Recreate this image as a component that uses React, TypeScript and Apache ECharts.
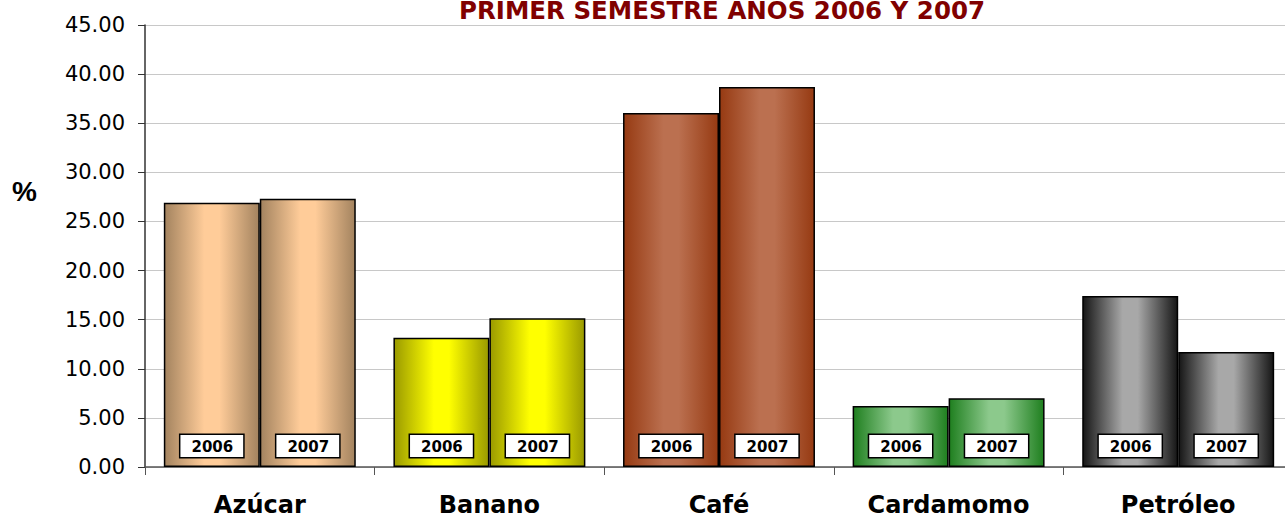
import React, { useEffect, useRef } from "react";
import * as echarts from "echarts";

const categories = ["Azúcar", "Banano", "Café", "Cardamomo", "Petróleo"];
const values2006 = [26.9, 13.15, 36.05, 6.2, 17.4];
const values2007 = [27.3, 15.15, 38.7, 7.0, 11.7];
const yTicks = { min: 0, max: 45, interval: 5 };
const titleText = "PRIMER SEMESTRE AÑOS 2006 Y 2007";
const years = ["2006", "2007"];

// [edge, highlight] colours per category
const palette: [string, string][] = [
  ["#a3835f", "#ffcc99"],
  ["#9a9a00", "#ffff00"],
  ["#963a12", "#bb7050"],
  ["#1f7f1f", "#8cc98c"],
  ["#161616", "#a8a8a8"],
];

function grad(i: number) {
  const [edge, hi] = palette[i];
  return new echarts.graphic.LinearGradient(0, 0, 1, 0, [
    { offset: 0, color: edge },
    { offset: 0.42, color: hi },
    { offset: 0.58, color: hi },
    { offset: 1, color: edge },
  ]);
}

function makeSeries(name: string, vals: number[]) {
  return {
    name,
    type: "bar",
    barGap: "0%",
    barCategoryGap: "16.4%",
    data: vals.map((v, i) => ({
      value: v,
      itemStyle: { color: grad(i), borderColor: "#000", borderWidth: 1.5 },
    })),
    label: {
      show: true,
      position: "insideBottom",
      distance: 10,
      formatter: name,
      color: "#000",
      fontWeight: "bold",
      fontSize: 15,
      fontFamily: "DejaVu Sans, sans-serif",
      backgroundColor: "#fff",
      borderColor: "#000",
      borderWidth: 1.5,
      padding: [4, 10, 3, 11],
    },
  };
}

export default function App() {
  const ref = useRef<HTMLDivElement>(null);
  useEffect(() => {
    document.body.style.overflow = "hidden";
    const chart = echarts.init(ref.current!, null, { renderer: "svg" });
    chart.setOption({
      animation: false,
      backgroundColor: "#fff",
      title: {
        text: titleText,
        left: 717,
        textAlign: "center",
        top: -7,
        textStyle: {
          color: "#800000",
          fontSize: 24.5,
          fontWeight: "bold",
          fontFamily: "DejaVu Sans, sans-serif",
        },
      },
      graphic: [
        {
          type: "text",
          left: 12,
          top: 177,
          style: {
            text: "%",
            fontSize: 28,
            fontWeight: "bold",
            fontFamily: "Liberation Sans, Arial, sans-serif",
            fill: "#000",
          },
        },
      ],
      grid: { left: 145, right: 0, top: 25, bottom: 51, containLabel: false },
      xAxis: {
        type: "category",
        data: categories,
        axisLine: { lineStyle: { color: "#555", width: 1.5 } },
        axisTick: { show: true, length: 8, lineStyle: { color: "#555" } },
        axisLabel: {
          color: "#000",
          fontSize: 24,
          fontWeight: "bold",
          fontFamily: "DejaVu Sans, sans-serif",
          margin: 26,
        },
      },
      yAxis: {
        type: "value",
        min: yTicks.min,
        max: yTicks.max,
        interval: yTicks.interval,
        axisLine: { show: true, lineStyle: { color: "#333", width: 1.5 } },
        axisTick: { show: true, length: 7, lineStyle: { color: "#333" } },
        splitLine: { lineStyle: { color: "#c8c8c8", width: 1 } },
        axisLabel: {
          formatter: (v: number) => v.toFixed(2),
          color: "#000",
          fontSize: 21,
          fontFamily: "DejaVu Sans, sans-serif",
          margin: 20,
        },
      },
      series: [makeSeries(years[0], values2006), makeSeries(years[1], values2007)],
    });
    return () => chart.dispose();
  }, []);
  return (
    <div
      ref={ref}
      style={{ position: "fixed", left: 0, top: 0, width: 1293, height: 518 }}
    />
  );
}
